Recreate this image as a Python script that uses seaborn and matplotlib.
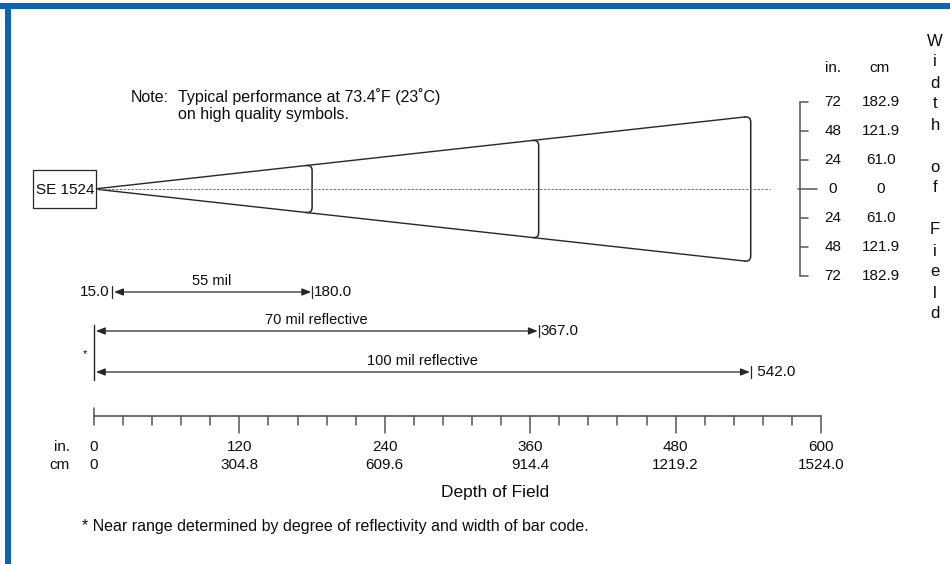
import matplotlib.pyplot as plt
import numpy as np
import pandas as pd
import seaborn as sns
from matplotlib.patches import Rectangle

# working ranges (inches)
bar_labels = ["55 mil", "70 mil reflective", "100 mil reflective"]
near_in = [15.0, 0.0, 0.0]
far_in = [180.0, 367.0, 542.0]
near_text = ["15.0", "", ""]
far_text = ["180.0", "367.0", " 542.0"]
field_half_in = [19.9, 40.6, 60.0]  # half width of field at far end

# depth of field axis
depth_in = [0, 120, 240, 360, 480, 600]
depth_cm = ["0", "304.8", "609.6", "914.4", "1219.2", "1524.0"]

# width of field scale
width_in = [72, 48, 24, 0, -24, -48, -72]
width_in_labels = ["72", "48", "24", "0", "24", "48", "72"]
width_cm_labels = ["182.9", "121.9", "61.0", "0", "61.0", "121.9", "182.9"]

sns.set_theme(style="white")
plt.rcParams["font.family"] = ["Liberation Sans", "DejaVu Sans"]

S = 727 / 600          # pixels per inch on the drawing
X0, Y0 = 94, 189       # pixel of depth 0 / beam centre line


def P(px, py):
    return (px - X0) / S, (Y0 - py) / S


def dpx(n):
    return n / S


ink = "#262626"
txt = "#0d0d0d"
fs = 11.5   # prose
fn = 11     # numbers

fig = plt.figure(figsize=(9.5, 5.64), dpi=100)
ax = fig.add_axes([0, 0, 1, 1])
ax.set_xlim(P(0, 0)[0], P(950, 0)[0])
ax.set_ylim(P(0, 564)[1], P(0, 0)[1])
ax.axis("off")

# blue frame
blue = "#0a66b2"
fig.add_artist(Rectangle((0, 1 - 9 / 564), 1, 6 / 564, transform=fig.transFigure,
                         color=blue, lw=0))
fig.add_artist(Rectangle((5 / 950, 0), 6 / 950, 1 - 3 / 564, transform=fig.transFigure,
                         color=blue, lw=0))

# beam cone
r = dpx(6)
slope = field_half_in[-1] / far_in[-1]
x_end = far_in[-1] - r
cone = pd.DataFrame({
    "depth": [0, x_end, 0, x_end],
    "width": [0, slope * x_end, 0, -slope * x_end],
    "edge": ["top", "top", "bottom", "bottom"],
})
sns.lineplot(data=cone, x="depth", y="width", units="edge", estimator=None,
             color=ink, lw=1.0, ax=ax, legend=False)

t = np.linspace(0, 1, 15)[:, None]


def bez(p0, p1, p2):
    p0, p1, p2 = map(np.array, (p0, p1, p2))
    return (1 - t) ** 2 * p0 + 2 * (1 - t) * t * p1 + t ** 2 * p2


for x, h in zip(far_in, field_half_in):
    top = bez((x - r, h * (x - r) / x), (x, h), (x, h - r))
    bot = bez((x, -h + r), (x, -h), (x - r, -h * (x - r) / x))
    pts = np.vstack([top, bot])
    ax.plot(pts[:, 0], pts[:, 1], color=ink, lw=1.1)

# centre line
ax.plot([dpx(2), P(770, 0)[0]], [0, 0], color="#707070", lw=0.7, dashes=(2.5, 1.5))

# scanner box
bx, by = P(33, 208)
ax.add_patch(Rectangle((bx, by), dpx(63), dpx(38), fc="white", ec=ink, lw=0.9, zorder=3))
ax.text(*P(65, 190), "SE 1524", ha="center", va="center", fontsize=11, color=txt,
        zorder=4)

# note
ax.text(*P(131, 97), "Note:", ha="left", va="center", fontsize=fs, color=txt)
ax.text(*P(178, 97), "Typical performance at 73.4˚F (23˚C)", ha="left", va="center",
        fontsize=fs, color=txt)
ax.text(*P(178, 115), "on high quality symbols.", ha="left", va="center", fontsize=fs,
        color=txt)

# range bars
row_py = [292, 331, 372]
arrow = dict(arrowstyle="<|-|>,head_length=0.45,head_width=0.18", color=ink, lw=0.9,
             shrinkA=0, shrinkB=0)
for lab, n, f, nt, ft, py in zip(bar_labels, near_in, far_in, near_text, far_text, row_py):
    y = P(0, py)[1]
    ax.annotate("", xy=(f - dpx(1), y), xytext=(n + dpx(2), y), arrowprops=arrow)
    ax.plot([f, f], [y - dpx(6), y + dpx(6)], color=ink, lw=0.9)
    if n > 0:
        ax.plot([n, n], [y - dpx(6), y + dpx(6)], color=ink, lw=0.9)
        ax.text(n - dpx(3), y, nt, ha="right", va="center", fontsize=fn, color=txt)
    ax.text(f + dpx(2), y, ft, ha="left", va="center", fontsize=fn, color=txt)
    ax.text((n + f) / 2, y + dpx(11), lab, ha="center", va="center", fontsize=10.5,
            color=txt)

# shared near-range bar for reflective rows
ys = [P(0, py)[1] for n, py in zip(near_in, row_py) if n == 0]
ax.plot([0, 0], [max(ys) + dpx(6), min(ys) - dpx(8)], color=ink, lw=1.0)
ax.text(*P(85, 354), "*", ha="center", va="center", fontsize=8, color=txt)

# depth of field axis
ay = P(0, 416)[1]
ax.plot([0, depth_in[-1]], [ay, ay], color="#555", lw=1.2)
for v in np.arange(0, depth_in[-1] + 1, 24):
    if v == 0:
        ax.plot([0, 0], [ay + dpx(8), ay - dpx(9)], color="#555", lw=1.1)
    elif v in depth_in:
        ax.plot([v, v], [ay, ay - dpx(17)], color="#555", lw=1.1)
    else:
        ax.plot([v, v], [ay, ay - dpx(9)], color="#555", lw=1.1)
for v, c in zip(depth_in, depth_cm):
    ax.text(v, P(0, 447)[1], str(v), ha="center", va="center", fontsize=fn, color=txt)
    ax.text(v, P(0, 465)[1], c, ha="center", va="center", fontsize=fn, color=txt)
ax.text(*P(70, 447), "in.", ha="right", va="center", fontsize=fn, color=txt)
ax.text(*P(70, 465), "cm", ha="right", va="center", fontsize=fn, color=txt)
ax.text(*P(495, 492), "Depth of Field", ha="center", va="center", fontsize=12.5,
        color=txt)
ax.text(*P(82, 527), "* Near range determined by degree of reflectivity and width of bar code.",
        ha="left", va="center", fontsize=fs, color=txt)

# width of field scale
wx = P(800, 0)[0]
ax.plot([wx, wx], [width_in[0], width_in[-1]], color="#555", lw=1.1)
for v, a, c in zip(width_in, width_in_labels, width_cm_labels):
    if v == 0:
        ax.plot([wx - dpx(2), wx + dpx(17)], [v, v], color="#555", lw=1.1)
    else:
        ax.plot([wx, wx + dpx(8)], [v, v], color="#555", lw=1.1)
    ax.text(P(833, 0)[0], v, a, ha="center", va="center", fontsize=fn, color=txt)
    ax.text(P(881, 0)[0], v, c, ha="center", va="center", fontsize=fn, color=txt)
ax.text(*P(833, 68), "in.", ha="center", va="center", fontsize=fn, color=txt)
ax.text(*P(880, 68), "cm", ha="center", va="center", fontsize=fn, color=txt)

for i, ch in enumerate("Width of Field"):
    ax.text(*P(935, 41 + 21 * i), ch, ha="center", va="center", fontsize=12,
            color=txt)

fig.savefig("out.png", dpi=100)
